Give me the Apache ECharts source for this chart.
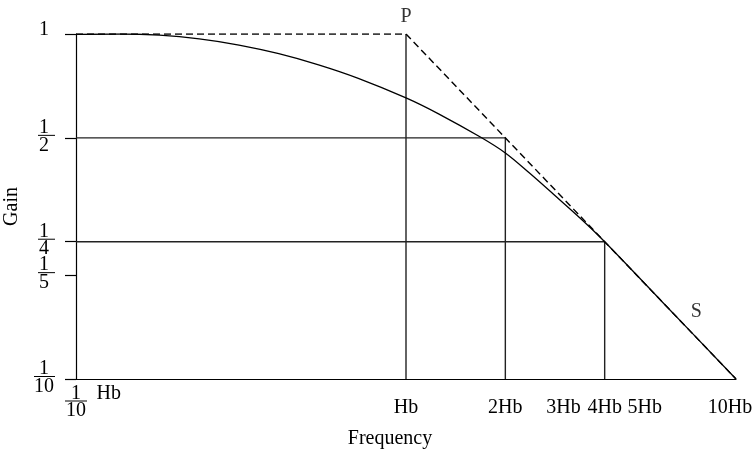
<!DOCTYPE html>
<html>
<head>
<meta charset="utf-8">
<script src="https://cdn.jsdelivr.net/npm/echarts@6/dist/echarts.min.js"></script>
<style>html,body{margin:0;padding:0;background:#fff}#c{width:756px;height:450px}</style>
</head>
<body>
<div id="c"></div>
<script>
// ---- data ----
const freqTicks = [0.1, 1, 2, 3, 4, 5, 10];
const freqTickLabels = ['1/10 Hb', 'Hb', '2Hb', '3Hb', '4Hb', '5Hb', '10Hb'];
const gainTicks = [1, 0.5, 0.25, 0.2, 0.1];
const gainTickLabels = ['1', '1/2', '1/4', '1/5', '1/10'];

const responseFreq = [0.1, 0.1357, 0.179, 0.2363, 0.3119, 0.4116, 0.5433, 0.7168, 1, 1.251, 1.69, 2, 2.362, 2.81, 3.405, 4, 6, 10];
const responseGain = [0.997, 1.0, 0.992, 0.968, 0.929, 0.877, 0.814, 0.744, 0.653, 0.588, 0.501, 0.452, 0.396, 0.342, 0.290, 0.25, 0.1667, 0.1];

const asymptoteFreq = [0.1, 1, 10];
const asymptoteGain = [1, 1, 0.1];

const cornerFreq = [1, 2, 4];
const cornerGain = [1, 0.5, 0.25];

const pointNames = ['P', 'S'];
const pointFreq = [1, 6];
const pointGain = [1, 1 / 6];

// ---- helpers ----
const FONT = '"Liberation Serif", "DejaVu Serif", serif';
function findIdx(arr, v) {
  for (let i = 0; i < arr.length; i++) if (Math.abs(arr[i] - v) / arr[i] < 1e-6) return i;
  return -1;
}
function fracRich(txt, suffix) {
  const p = txt.split('/');
  if (p.length < 2) return '{one|' + txt + '}';
  const bar = p[1].length > 1 ? 'barw' : 'bar';
  if (suffix) {
    return '{sp| }{n|' + p[0] + '}{hb|' + suffix + '}\n{sp| }{barx| }{sp| }\n{sp| }{dx|' + p[1] + '}{sp| }';
  }
  return '{n|' + p[0] + '}\n{' + bar + '| }\n{d|' + p[1] + '}';
}
const richBase = {
  n: { fontFamily: FONT, fontSize: 20, lineHeight: 13, width: 22, align: 'center', color: '#000' },
  d: { fontFamily: FONT, fontSize: 20, lineHeight: 18, width: 22, align: 'center', color: '#000' },
  dx: { fontFamily: FONT, fontSize: 20, lineHeight: 18, width: 22, align: 'center', color: '#000' },
  bar: { width: 17, height: 1, lineHeight: 2, fontSize: 1, backgroundColor: '#000' },
  barw: { width: 21, height: 1, lineHeight: 2, fontSize: 1, backgroundColor: '#000' },
  barx: { width: 22, height: 1, lineHeight: 2, fontSize: 1, backgroundColor: '#000' },
  sp: { width: 34, fontSize: 1, lineHeight: 2 },
  hb: { fontFamily: FONT, fontSize: 20, lineHeight: 13, width: 34, align: 'right', color: '#000' },
  one: { fontFamily: FONT, fontSize: 20, lineHeight: 20, width: 22, align: 'center', color: '#000', padding: [0, 0, 8, 0] },
  t: { fontFamily: FONT, fontSize: 20, lineHeight: 42, color: '#000' },
  t5: { fontFamily: FONT, fontSize: 20, lineHeight: 42, color: '#000', padding: [0, 0, 0, 16] },
  t10: { fontFamily: FONT, fontSize: 20, lineHeight: 42, color: '#000', padding: [0, 12, 0, 0] }
};

// ---- series ----
const series = [];
series.push({
  type: 'line', data: asymptoteFreq.map((f, i) => [f, asymptoteGain[i]]),
  symbol: 'none', lineStyle: { color: '#000', width: 1.4, type: [7, 4] }, z: 3
});
series.push({
  type: 'line', data: responseFreq.map((f, i) => [f, responseGain[i]]),
  symbol: 'none', smooth: 0.35,
  lineStyle: { color: '#000', width: 1.3 }, z: 4
});
cornerFreq.forEach((f, i) => {
  series.push({
    type: 'line', data: [[f, cornerGain[i]], [f, gainTicks[gainTicks.length - 1]]],
    symbol: 'none', lineStyle: { color: '#222', width: 1.4 }, z: 2
  });
  if (cornerGain[i] < 1) {
    series.push({
      type: 'line', data: [[freqTicks[0], cornerGain[i]], [f, cornerGain[i]]],
      symbol: 'none', lineStyle: { color: '#222', width: 1.4 }, z: 2
    });
  }
});
series.push({
  type: 'scatter', symbolSize: 0,
  data: pointNames.map((n, i) => ({
    value: [pointFreq[i], pointGain[i]], name: n,
    label: i === 0 ? { position: 'top', distance: 7 } : { position: 'right', distance: 28, offset: [0, 9] }
  })),
  label: { show: true, formatter: '{b}', fontFamily: FONT, fontSize: 20, color: '#000' },
  z: 5
});

const chart = echarts.init(document.getElementById('c'), null, { renderer: 'canvas' });
chart.setOption({
  animation: false,
  backgroundColor: '#fff',
  grid: { left: 76, right: 20, top: 34, bottom: 71, containLabel: false, outerBoundsMode: 'none' },
  xAxis: {
    type: 'log', logBase: 10, min: 0.1, max: 10,
    name: 'Frequency', nameLocation: 'middle', nameGap: 50,
    nameTextStyle: { fontFamily: FONT, fontSize: 20, color: '#000', padding: [0, 32, 0, 0] },
    axisLine: { show: true, onZero: false, lineStyle: { color: '#000', width: 1.2 } },
    axisTick: { show: false },
    splitLine: { show: false },
    minorTick: { show: false },
    axisLabel: {
      customValues: freqTicks, margin: 8, showMinLabel: true, showMaxLabel: true, hideOverlap: false,
      formatter: function (v) {
        const i = findIdx(freqTicks, v);
        if (i < 0) return '';
        const s = freqTickLabels[i];
        if (s.indexOf('/') >= 0) {
          const parts = s.split(' ');
          return fracRich(parts[0], parts[1]);
        }
        const style = i === freqTicks.length - 1 ? 't10' : (freqTicks[i] === 5 ? 't5' : 't');
        return '{' + style + '|' + s + '}';
      },
      rich: richBase
    }
  },
  yAxis: {
    type: 'log', logBase: 10, min: 0.1, max: 1,
    name: 'Gain', nameLocation: 'middle', nameGap: 45,
    nameTextStyle: { fontFamily: FONT, fontSize: 20, color: '#000' },
    axisLine: { show: true, onZero: false, lineStyle: { color: '#000', width: 1.2 } },
    axisTick: { show: true, customValues: gainTicks, length: 11, inside: false, lineStyle: { color: '#000', width: 1.2 } },
    splitLine: { show: false },
    minorTick: { show: false },
    axisLabel: {
      customValues: gainTicks, margin: 21, showMinLabel: true, showMaxLabel: true, hideOverlap: false,
      formatter: function (v) {
        const i = findIdx(gainTicks, v);
        if (i < 0) return '';
        return fracRich(gainTickLabels[i]);
      },
      rich: richBase
    }
  },
  series: series
});
</script>
</body>
</html>
